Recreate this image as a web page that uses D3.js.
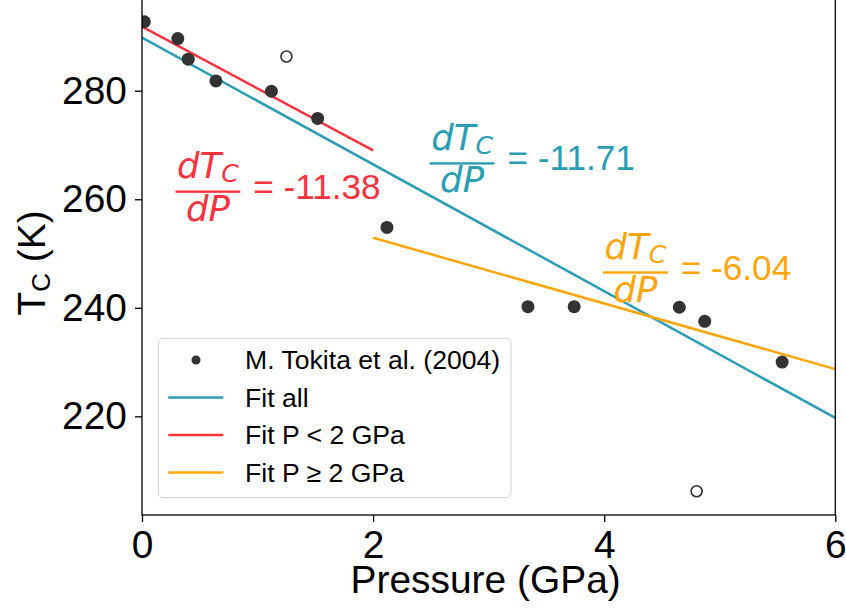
<!DOCTYPE html>
<html>
<head>
<meta charset="utf-8">
<script src="https://cdn.jsdelivr.net/npm/d3@7"></script>
<style>
  html, body { margin: 0; padding: 0; background: #ffffff; }
  svg { display: block; }
</style>
</head>
<body>
<svg id="chart" width="846" height="615"></svg>
<script>
// ---------- data ----------
const pressure = [0.02, 0.31, 0.40, 0.64, 1.12, 1.52, 2.12, 3.34, 3.74, 4.65, 4.87, 5.54];
const tc       = [292.7, 289.6, 285.8, 281.8, 279.9, 274.9, 254.8, 240.2, 240.2, 240.1, 237.5, 230.0];
const outlierPressure = [1.25, 4.80];
const outlierTc       = [286.3, 206.2];

const fitNames  = ["Fit all", "Fit P < 2 GPa", "Fit P \u2265 2 GPa"];
const fitStartP = [0, 0, 2];
const fitEndP   = [6, 2, 6];
const fitStartT = [289.8, 291.8, 252.9];
const fitEndT   = [219.7, 269.0, 228.7];
const fitSlopeLabels = ["-11.71", "-11.38", "-6.04"];
const fitLabelP = [2.49, 0.29, 3.99];
const fitLabelT = [266.6, 261.4, 246.5];

const xTicks = [0, 2, 4, 6];
const yTicks = [220, 240, 260, 280];
const dataLabel = "M. Tokita et al. (2004)";

// ---------- layout ----------
const colors = ["#2a9db5", "#f6333f", "#fca60c"];
const pL = 142, pR = 835.3, pT = -2, pB = 515;
const svg = d3.select("#chart");
const sans = "'Liberation Sans', Arial, sans-serif";
const mathFont = "'DejaVu Sans', sans-serif";

const x = d3.scaleLinear().domain([0, 6]).range([pL, pR]);
const y = d3.scaleLinear().domain([201.82, 297.08]).range([pB, pT]);

// clip
svg.append("defs").append("clipPath").attr("id", "clip")
  .append("rect").attr("x", pL).attr("y", pT).attr("width", pR - pL).attr("height", pB - pT);

const plot = svg.append("g").attr("clip-path", "url(#clip)");

// fit lines
fitNames.forEach((n, i) => {
  plot.append("line")
    .attr("x1", x(fitStartP[i])).attr("y1", y(fitStartT[i]))
    .attr("x2", x(fitEndP[i])).attr("y2", y(fitEndT[i]))
    .attr("stroke", colors[i]).attr("stroke-width", 2.5);
});

// points
plot.selectAll("circle.pt").data(pressure.map((p, i) => [p, tc[i]])).enter()
  .append("circle").attr("class", "pt")
  .attr("cx", d => x(d[0])).attr("cy", d => y(d[1])).attr("r", 6.5)
  .attr("fill", "#333333");

plot.selectAll("circle.out").data(outlierPressure.map((p, i) => [p, outlierTc[i]])).enter()
  .append("circle").attr("class", "out")
  .attr("cx", d => x(d[0])).attr("cy", d => y(d[1])).attr("r", 5.5)
  .attr("fill", "none").attr("stroke", "#333333").attr("stroke-width", 1.6);

// annotations (fractions)
fitNames.forEach((n, i) => {
  const bx = x(fitLabelP[i]);
  const by = y(fitLabelT[i]);
  const g = svg.append("g").attr("fill", colors[i]);
  const num = g.append("text")
    .attr("y", by - 13.5)
    .attr("font-family", mathFont).attr("font-style", "oblique").attr("font-size", 35.5);
  num.append("tspan").text("dT");
  num.append("tspan").attr("font-size", 25).attr("dy", 4).text("C");
  const den = g.append("text")
    .attr("y", by + 29)
    .attr("font-family", mathFont).attr("font-style", "oblique").attr("font-size", 35.5)
    .text("dP");
  const wn = num.node().getComputedTextLength();
  const wd = den.node().getComputedTextLength();
  const w = Math.max(wn, wd) + 3;
  num.attr("x", bx + (w - wn) / 2);
  den.attr("x", bx + (w - wd) / 2);
  g.append("rect").attr("x", bx).attr("y", by - 1.2).attr("width", w).attr("height", 2.4);
  g.append("text")
    .attr("x", bx + w + 13).attr("y", by + 7)
    .attr("font-family", sans).attr("font-size", 35.2)
    .text("= " + fitSlopeLabels[i]);
});

// axes
const xAxis = svg.append("g").attr("transform", `translate(0,${pB})`)
  .call(d3.axisBottom(x).tickValues(xTicks).tickFormat(d3.format("d")).tickSize(7).tickPadding(8).tickSizeOuter(0));
const yAxis = svg.append("g").attr("transform", `translate(${pL},0)`)
  .call(d3.axisLeft(y).tickValues(yTicks).tickFormat(d3.format("d")).tickSize(7).tickPadding(8).tickSizeOuter(0));
[xAxis, yAxis].forEach(a => {
  a.selectAll("text").attr("font-family", sans).attr("font-size", 38.9).attr("fill", "#000");
  a.selectAll("line").attr("stroke", "#000").attr("stroke-width", 1.3);
  a.select(".domain").attr("stroke", "none");
});

// frame
svg.append("rect").attr("x", pL).attr("y", pT).attr("width", pR - pL).attr("height", pB - pT)
  .attr("fill", "none").attr("stroke", "#000").attr("stroke-width", 1.3);

// axis labels
svg.append("text").attr("x", (pL + pR) / 2 - 3).attr("y", 593)
  .attr("text-anchor", "middle").attr("font-family", sans).attr("font-size", 38.9)
  .text("Pressure (GPa)");
const yl = svg.append("text").attr("transform", "translate(45,263) rotate(-90)")
  .attr("text-anchor", "middle").attr("font-family", sans).attr("font-size", 38.9);
yl.append("tspan").text("T");
yl.append("tspan").attr("font-size", 26).attr("dy", 5).text("C");
yl.append("tspan").attr("dy", -5).text(" (K)");

// legend
const lg = svg.append("g");
lg.append("rect").attr("x", 158.3).attr("y", 338.3).attr("width", 352.7).attr("height", 159.4)
  .attr("rx", 5).attr("fill", "#ffffff").attr("fill-opacity", 0.8)
  .attr("stroke", "#d0d0d0").attr("stroke-width", 1);
const rowY = [360, 397.5, 435, 472.5];
const labels = [dataLabel].concat(fitNames);
labels.forEach((lab, i) => {
  const cy = rowY[i];
  if (i === 0) {
    lg.append("circle").attr("cx", 196).attr("cy", cy).attr("r", 4.5).attr("fill", "#333333");
  } else {
    lg.append("line").attr("x1", 168.3).attr("x2", 223.3).attr("y1", cy).attr("y2", cy)
      .attr("stroke", colors[i - 1]).attr("stroke-width", 2.5);
  }
  lg.append("text").attr("x", 245).attr("y", cy + 9)
    .attr("font-family", sans).attr("font-size", 26.6).attr("fill", "#000").text(lab);
});
</script>
</body>
</html>
